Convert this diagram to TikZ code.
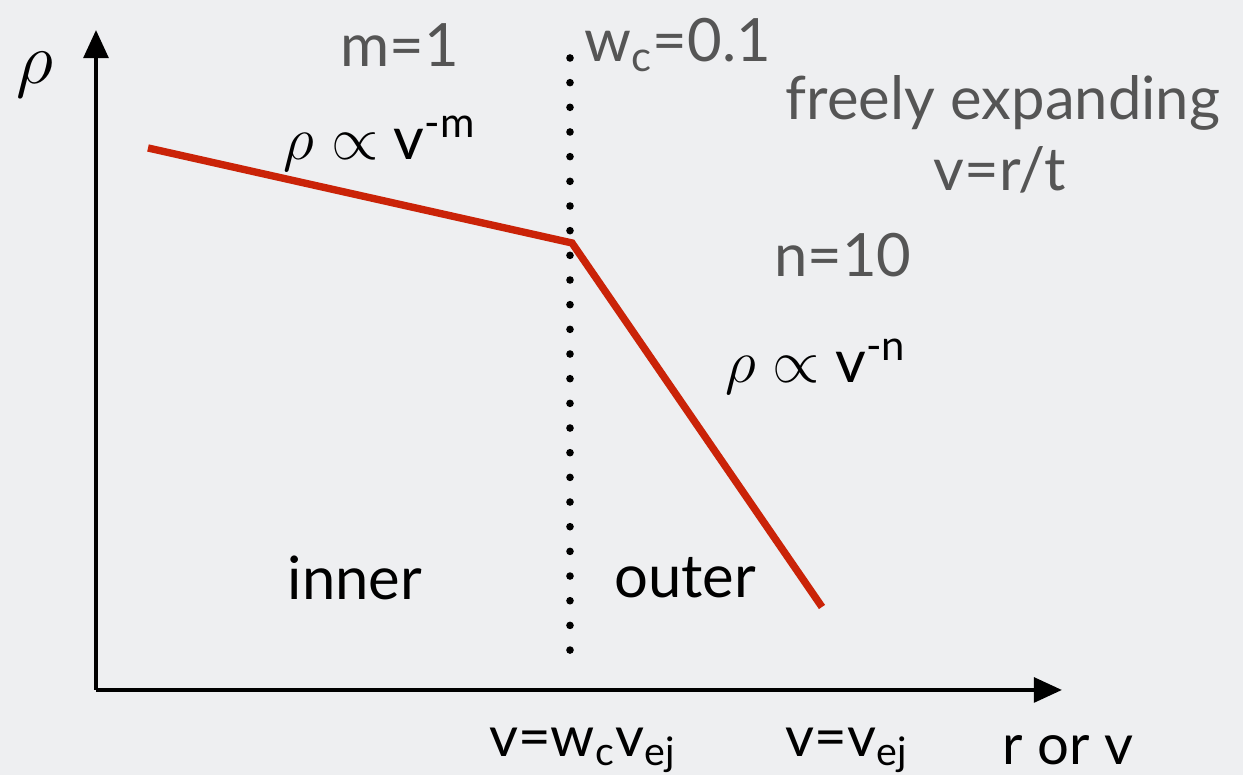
\documentclass[tikz,border=0pt]{standalone}
\usepackage{fontspec}
\setmainfont{Lato}
\usepackage{tikz}
\usetikzlibrary{positioning, arrows.meta}
\definecolor{SlideGrey}{RGB}{238,239,241}
\definecolor{LabelGrey}{RGB}{85,85,85}
\definecolor{ProfileRed}{RGB}{202,35,8}
\tikzset{
  axis/.style={-{Triangle[length=8pt, width=7pt]}, line width=1.2pt, black},
  profile/.style={line width=2.1pt, ProfileRed, line join=miter},
  greylab/.style={font=\fontsize{17}{19}\selectfont, text=LabelGrey, inner sep=1pt},
  blacklab/.style={font=\fontsize{17}{19}\selectfont, text=black, inner sep=1pt},
  ticklab/.style={font=\fontsize{16}{18}\selectfont, text=black, inner sep=1pt},
  dotmark/.style={fill=black},
}
\begin{document}
\begin{tikzpicture}[>=Stealth]
    \fill[SlideGrey] (0,0) rectangle (12.43,7.75);
    \useasboundingbox (0,0) rectangle (12.43,7.75);
    % axes
    \coordinate (origin) at (0.96,0.85);
    \coordinate (ytip) at (0.96,7.45);
    \coordinate (xtip) at (10.62,0.85);
    \draw[axis] (origin) -- (ytip);
    \draw[axis] (origin) -- (xtip);
    \node[font=\fontsize{21}{23}\selectfont] (rho) at (0.35,7.0) {$\rho$};
    % broken power law
    \coordinate (inner end) at (1.48,6.27);
    \coordinate (break) at (5.72,5.32);
    \coordinate (outer end) at (8.22,1.68);
    \draw[profile] (inner end) -- (break) -- (outer end);
    % transition velocity
    \foreach \k in {0,...,24} {
      \fill[dotmark] (5.70,7.17-0.2467*\k) circle (0.038);
    }
    \node[greylab] (mval) at (4.00,7.30) {m=1};
    \node[greylab, anchor=west] (wcval) at (5.80,7.30) {w\textsubscript{c}=0.1};
    \node[greylab] (free) at (10.03,6.72) {freely expanding};
    \node[greylab] (vrt) at (10.00,6.05) {v=r/t};
    \node[greylab] (nval) at (8.43,5.20) {n=10};
    \node[blacklab] (lawm) at (3.80,6.31) {$\rho\propto$ v\textsuperscript{-m}};
    \node[blacklab] (lawn) at (8.16,4.08) {$\rho\propto$ v\textsuperscript{-n}};
    \node[blacklab] (inner) at (3.55,1.97) {inner};
    \node[blacklab] (outer) at (6.85,1.97) {outer};
    % velocity axis labels
    \node[ticklab] (vwc) at (5.83,0.25) {v=w\textsubscript{c}v\textsubscript{ej}};
    \node[ticklab] (vej) at (8.47,0.25) {v=v\textsubscript{ej}};
    \node[ticklab] (rorv) at (10.68,0.25) {r or v};
  \end{tikzpicture}
\end{document}
